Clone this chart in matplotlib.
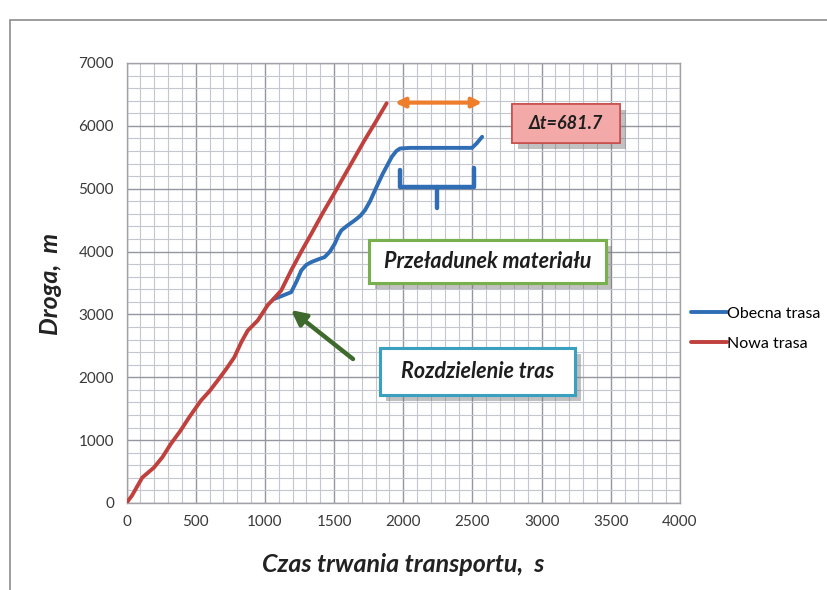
import matplotlib
matplotlib.use("Agg")
import matplotlib.pyplot as plt
import matplotlib.patheffects as pe
from matplotlib.patches import FancyBboxPatch, Rectangle, FancyArrowPatch
from matplotlib.lines import Line2D

# ---- data ----
nowa_t = [0, 40, 114, 198, 260, 319, 390, 452, 537, 600, 658, 720, 779, 830, 876, 948,
          1021, 1060, 1118, 1190, 1263, 1340, 1420, 1505, 1580, 1650, 1720, 1800, 1880]
nowa_s = [0, 120, 405, 563, 730, 936, 1150, 1360, 1627, 1780, 1946, 2130, 2318, 2560,
          2743, 2903, 3150, 3240, 3381, 3700, 4000, 4300, 4620, 4940, 5230, 5500, 5770,
          6060, 6360]
obecna_t = [1060, 1130, 1190, 1230, 1263, 1300, 1336, 1390, 1432, 1470, 1505, 1530, 1553,
            1600, 1650, 1690, 1723, 1760, 1796, 1850, 1917, 1950, 1977, 2050, 2200, 2350,
            2497, 2530, 2570]
obecna_s = [3240, 3301, 3354, 3530, 3700, 3790, 3833, 3880, 3912, 4000, 4125, 4250, 4338,
            4420, 4498, 4570, 4657, 4800, 4976, 5230, 5507, 5600, 5640, 5650, 5650, 5650,
            5650, 5720, 5826]
series_names = ["Obecna trasa", "Nowa trasa"]
delta_label = "Δt=681.7"
x_ticks = [0, 500, 1000, 1500, 2000, 2500, 3000, 3500, 4000]
y_ticks = [0, 1000, 2000, 3000, 4000, 5000, 6000, 7000]

plt.rcParams['font.family'] = ['Lato', 'DejaVu Sans']

W, H = 827, 590
fig = plt.figure(figsize=(W / 100, H / 100), dpi=100)

def fx(px):
    return px / W

def fy(py):
    return 1 - py / H

# outer chart frame
fig.patches.append(Rectangle((fx(10), fy(600)), fx(830) - fx(10), fy(20) - fy(600),
                             transform=fig.transFigure, fill=False,
                             edgecolor='#8c8c8c', linewidth=1.2))

ax = fig.add_axes([fx(126.5), fy(503), fx(680) - fx(126.5), fy(63) - fy(503)])
ax.set_xlim(0, 4000)
ax.set_ylim(0, 7000)
ax.set_xticks(x_ticks)
ax.set_yticks(y_ticks)
ax.set_xticks(range(0, 4001, 100), minor=True)
ax.set_yticks(range(0, 7001, 200), minor=True)
ax.grid(which='minor', color='#c4c7d0', linewidth=0.8)
ax.grid(which='major', color='#9496a0', linewidth=1.0)
ax.set_axisbelow(True)
for sp in ax.spines.values():
    sp.set_color('#a0a2a8')
    sp.set_linewidth(1.0)
ax.tick_params(which='both', length=0, labelsize=11, colors='#3a3a3a', pad=9)

l1, = ax.plot(obecna_t, obecna_s, color='#2f6db5', linewidth=2.8,
              solid_capstyle='round', label=series_names[0], zorder=3)
l2, = ax.plot(nowa_t, nowa_s, color='#c0403d', linewidth=2.8,
              solid_capstyle='round', label=series_names[1], zorder=4)

ax.set_xlabel("Czas trwania transportu,  s", fontsize=18, fontstyle='italic',
              fontweight='bold', color='#222222', labelpad=17)
fig.text(fx(51), fy(284), "Droga,  m", rotation=90, fontsize=18, fontstyle='italic',
         fontweight='bold', color='#222222', ha='center', va='center')

fig.legend(handles=[l1, l2], labels=series_names, loc='upper left',
           bbox_to_anchor=(fx(685), fy(300)), frameon=False, fontsize=11.5,
           handlelength=2.2, handletextpad=0.0, labelspacing=1.0, borderaxespad=0)

shadow = [pe.withSimplePatchShadow(offset=(4, -4), shadow_rgbFace='#777777', alpha=0.45),
          pe.Normal()]

# orange double arrow
ax.annotate('', xy=(2570, 6370), xytext=(1940, 6370),
            arrowprops=dict(arrowstyle='<|-|>', color='#ee7d2c', lw=3,
                            mutation_scale=14, shrinkA=0, shrinkB=0), zorder=6)

# blue bracket
bx = [fx(400), fx(400), fx(474), fx(474)]
by = [fy(170), fy(187), fy(187), fy(168)]
fig.add_artist(Line2D(bx, by, transform=fig.transFigure, color='#2f6db5', lw=3.2,
                      solid_capstyle='round', solid_joinstyle='round'))
fig.add_artist(Line2D([fx(437), fx(437)], [fy(187), fy(208)], transform=fig.transFigure,
                      color='#2f6db5', lw=3.2, solid_capstyle='round'))

# green arrow
fig.add_artist(FancyArrowPatch(
    (fx(353), fy(359)), (fx(291), fy(310)), transform=fig.transFigure,
    arrowstyle='-|>', mutation_scale=22, color='#3f6a2d', lw=3.2, shrinkA=0, shrinkB=0))

def box(x0, y0, x1, y1, face, edge, text, fs, lw=2.2):
    p = FancyBboxPatch((fx(x0), fy(y1)), fx(x1) - fx(x0), fy(y0) - fy(y1),
                       boxstyle='square,pad=0', transform=fig.transFigure,
                       facecolor=face, edgecolor=edge, linewidth=lw, zorder=5)
    p.set_path_effects(shadow)
    fig.patches.append(p)
    fig.text((fx(x0) + fx(x1)) / 2, (fy(y0) + fy(y1)) / 2, text, fontsize=fs,
             fontstyle='italic', fontweight='bold', color='#1e1e1e',
             ha='center', va='center', zorder=6)

box(512, 104, 620, 143, '#f2a9a8', '#c8504d', delta_label, 13, lw=1.2)
box(369, 240, 606, 283, 'white', '#79b04e', "Przeładunek materiału", 15.5)
box(380, 348, 575, 395, 'white', '#3aa0c0', "Rozdzielenie tras", 15.5)

fig.savefig('out.png', dpi=100)
